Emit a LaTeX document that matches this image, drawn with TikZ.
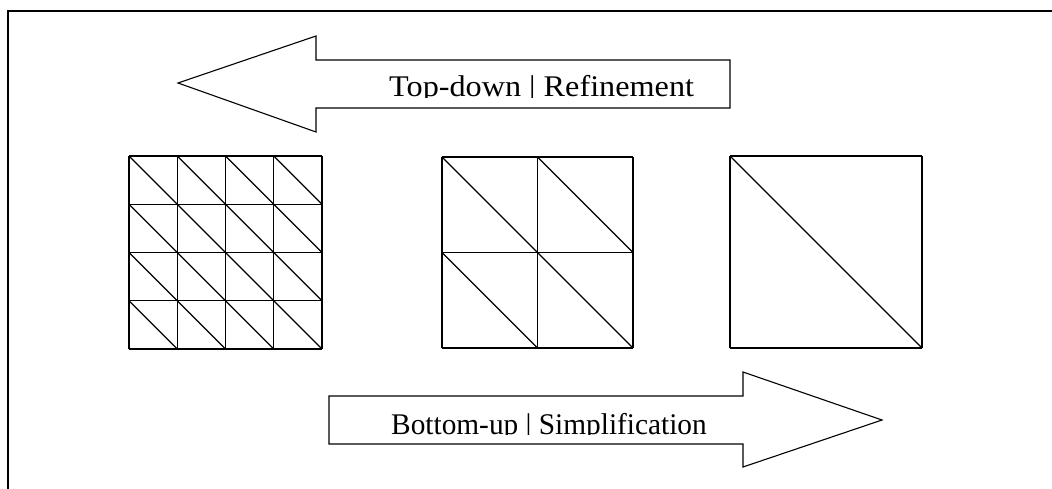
\documentclass[tikz,border=0pt]{standalone}
\usepackage{fontspec}
\setmainfont{Liberation Serif}
\begin{document}
\begin{tikzpicture}[x=1pt, y=-1pt, line join=miter,
  frameline/.style={draw=black, line width=1.5pt},
  arrowshape/.style={draw=black, line width=1.1pt},
  meshline/.style={draw=black, line width=1.2pt},
  caption/.style={font=\fontsize{30}{36}\selectfont, inner sep=0pt, anchor=base west}]
\useasboundingbox (0,0) rectangle (1052,489);
\fill[white] (0,0) rectangle (1052,489);

% outer frame (only the top and left sides fall inside the page)
\draw[frameline] (8,489) -- (8,11) -- (1052,11);

% left-pointing block arrow
\draw[arrowshape] (178,83) -- (316,36) -- (316,60) -- (730,60) -- (730,108)
  -- (316,108) -- (316,132) -- cycle;
\begin{scope}
  \clip (330,62) rectangle (728,97.5);
  \node[caption, xscale=1.074] (topdown) at (389,97) {Top-down | Refinement};
\end{scope}

% right-pointing block arrow
\draw[arrowshape] (329,396) -- (743,396) -- (743,372) -- (882,420) -- (743,467)
  -- (743,444) -- (329,444) -- cycle;
\begin{scope}
  \clip (331,398) rectangle (741,434.5);
  \node[caption, xscale=0.978] (bottomup) at (391,434) {Bottom-up | Simplification};
\end{scope}

% triangulated squares: left x, top y, side, cells per side
\foreach \gx/\gy/\gs/\gn in {129/156/193/4, 442/157/191/2, 730/156/192/1} {
  \pgfmathsetmacro\cell{\gs/\gn}
  \foreach \k in {0,...,\gn} {
    \draw[meshline] ({\gx+\k*\cell},\gy) -- ({\gx+\k*\cell},{\gy+\gs});
    \draw[meshline] (\gx,{\gy+\k*\cell}) -- ({\gx+\gs},{\gy+\k*\cell});
  }
  \pgfmathtruncatemacro\last{\gn-1}
  \foreach \i in {0,...,\last} {
    \foreach \j in {0,...,\last} {
      \draw[meshline] ({\gx+\i*\cell},{\gy+\j*\cell}) -- ({\gx+(\i+1)*\cell},{\gy+(\j+1)*\cell});
    }
  }
}
\end{tikzpicture}
\end{document}
